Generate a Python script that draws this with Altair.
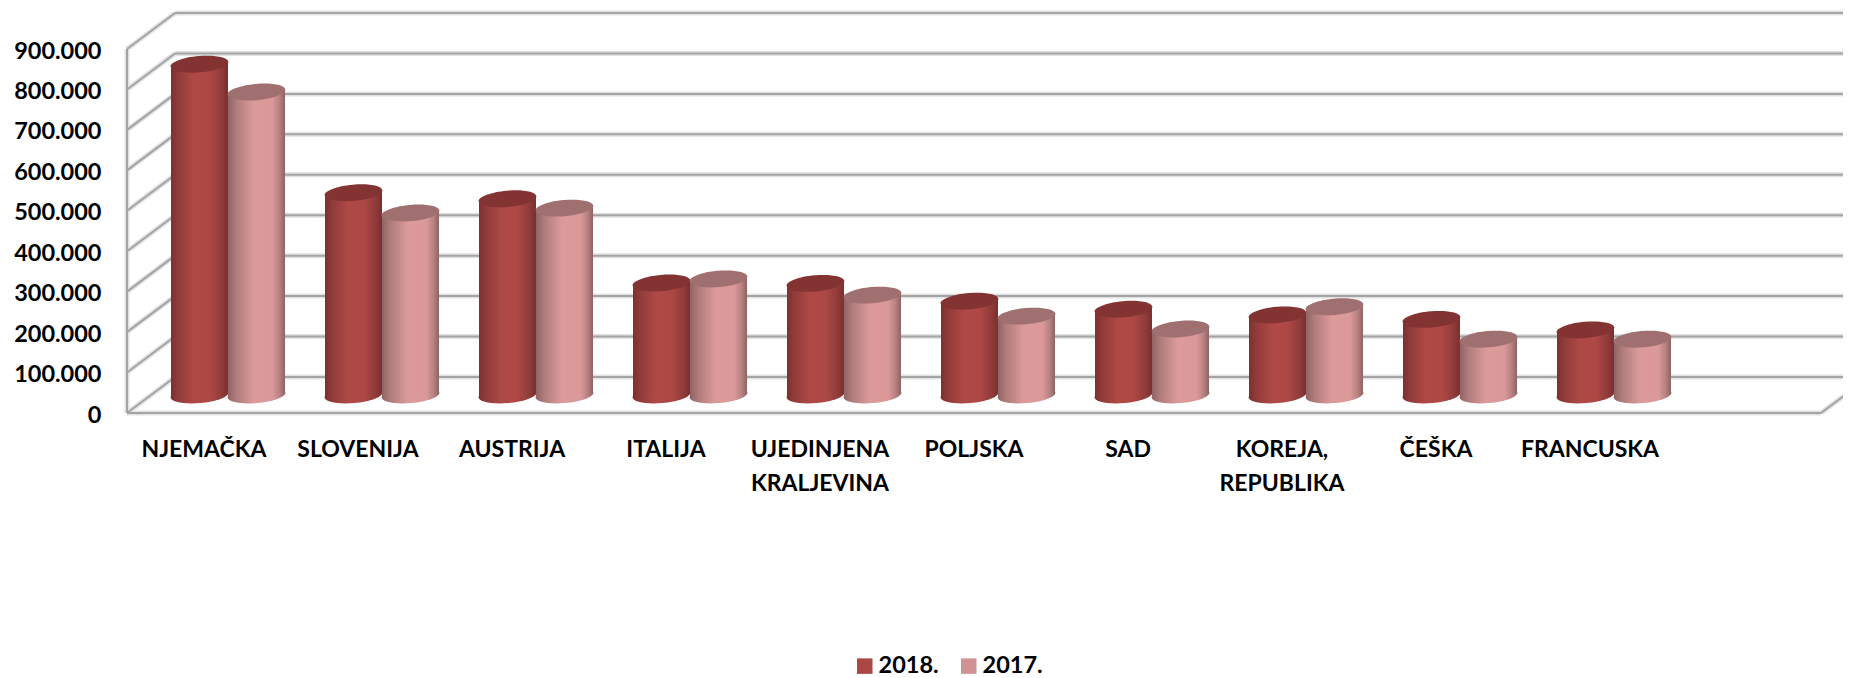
import math
import altair as alt
import pandas as pd

categories = ["NJEMAČKA", "SLOVENIJA", "AUSTRIJA", "ITALIJA", "UJEDINJENA\nKRALJEVINA",
              "POLJSKA", "SAD", "KOREJA,\nREPUBLIKA", "ČEŠKA", "FRANCUSKA"]
values_2018 = [818000, 500000, 485000, 277000, 276000, 232000, 212000, 198000, 187000, 161000]
values_2017 = [749000, 450000, 462000, 287000, 247000, 195000, 163000, 218000, 138000, 138000]
levels = [0, 100000, 200000, 300000, 400000, 500000, 600000, 700000, 800000, 900000]
series_names = ["2018.", "2017."]
legend_colors = ["#AB4744", "#D09292"]

# Plot geometry: oblique projection of the 3D box, in data units
W, H = 1716, 404
BAND = 154.0
PX_PER_UNIT_Y = 364.0 / 900000
X_MAX = W / BAND
Y_MAX = H / PX_PER_UNIT_Y
DEPTH_X = 48 / BAND
DEPTH_Y = 36 / PX_PER_UNIT_Y
N_BANDS = 11
HALF_W = 28.5 / BAND
TILT = 2.5 / PX_PER_UNIT_Y
FONT = "Lato"


def ellipse_path(ry=0.28, rot_deg=-5):
    k = 0.5523
    pts = [(-1, 0), (-1, -k * ry), (-k, -ry), (0, -ry), (k, -ry), (1, -k * ry), (1, 0),
           (1, k * ry), (k, ry), (0, ry), (-k, ry), (-1, k * ry), (-1, 0)]
    c, s = math.cos(math.radians(rot_deg)), math.sin(math.radians(rot_deg))
    q = [(x * c - y * s, x * s + y * c) for x, y in pts]
    f = lambda p: f"{p[0]:.4f},{p[1]:.4f}"
    d = "M" + f(q[0])
    for i in range(1, 13, 3):
        d += " C" + f(q[i]) + " " + f(q[i + 1]) + " " + f(q[i + 2])
    return d + " Z"


ELLIPSE = ellipse_path()
ELLIPSE_SIZE = 58 ** 2


def grad(stops):
    return alt.Gradient(gradient="linear", x1=0, x2=1, y1=0, y2=0,
                        stops=[alt.GradientStop(offset=o, color=c) for o, c in stops])


GRAD_2018 = grad([(0, "#7d302f"), (0.12, "#8f3b39"), (0.4, "#ae4946"), (0.68, "#ad4845"),
                  (0.88, "#903c3a"), (1, "#7a2f2e")])
GRAD_2017 = grad([(0, "#8f6464"), (0.15, "#b07c7c"), (0.45, "#dc9a9a"), (0.78, "#da9898"),
                  (0.9, "#b98282"), (1, "#8e6363")])
TOP_2018 = "#843333"
TOP_2017 = "#a07070"

x_scale = alt.Scale(domain=[0, X_MAX], nice=False, zero=False)
y_scale = alt.Scale(domain=[0, Y_MAX], nice=False, zero=False)
y_axis = alt.Axis(
    values=levels, title=None, domain=False, ticks=False, grid=False,
    labelFont=FONT, labelFontWeight="bold", labelFontSize=23.5, labelColor="#000000",
    labelPadding=26, labelOverlap=False, labelBound=False, labelFlush=False, labelOffset=2,
    labelExpr="replace(format(datum.value, ','), ',', '.')")


def X(f):
    return alt.X(f, scale=x_scale, axis=None)


def Y(f):
    return alt.Y(f, scale=y_scale, axis=y_axis)


# Box lines
rows = []


def seg(name, pts):
    for o, (xu, yu) in enumerate(pts):
        rows.append({"seg": name, "o": o, "x": xu, "y": yu})


seg("front-floor", [(0, 0), (N_BANDS, 0)])
seg("left-edge", [(0, 0), (0, levels[-1])])
seg("right-diag", [(N_BANDS, 0), (N_BANDS + DEPTH_X, DEPTH_Y)])
for lv in levels:
    seg(f"back-{lv}", [(DEPTH_X, lv + DEPTH_Y), (N_BANDS + DEPTH_X, lv + DEPTH_Y)])
    seg(f"diag-{lv}", [(0, lv), (DEPTH_X, lv + DEPTH_Y)])
lines = pd.DataFrame(rows)


def line_layer(width, color):
    return alt.Chart(lines).mark_line(strokeWidth=width, color=color, clip=False).encode(
        x=X("x:Q"), y=Y("y:Q"), detail="seg:N", order="o:Q")


def cylinder(values, side, fill, top):
    sign = -1 if side == "l" else 1
    body, cen = [], []
    for i, v in enumerate(values):
        xc = i + 0.5 + DEPTH_X / 2 + sign * HALF_W
        base = DEPTH_Y / 2
        cen.append({"cat": i, "x": xc, "base": base, "top": v + base})
        for e in (-1, 1):
            tilt = -e * TILT
            body.append({"cat": i, "x": xc + e * HALF_W, "y": v + base - tilt, "y2": base - tilt})
    body = pd.DataFrame(body)
    cen = pd.DataFrame(cen)
    b_ell = alt.Chart(cen).mark_point(shape=ELLIPSE, size=ELLIPSE_SIZE, filled=True, fill=fill,
                                      opacity=1, strokeWidth=0).encode(x=X("x:Q"), y=Y("base:Q"))
    area = alt.Chart(body).mark_area(fill=fill, orient="vertical", opacity=1).encode(
        x=X("x:Q"), y=Y("y:Q"), y2="y2:Q", detail="cat:N")
    t_ell = alt.Chart(cen).mark_point(shape=ELLIPSE, size=ELLIPSE_SIZE, filled=True, fill=top,
                                      opacity=1, strokeWidth=0).encode(x=X("x:Q"), y=Y("top:Q"))
    return [b_ell, area, t_ell]


labels = pd.DataFrame({"x": [i + 0.5 for i in range(len(categories))], "t": categories})
label_layer = alt.Chart(labels).mark_text(
    font=FONT, fontWeight="bold", fontSize=23, color="#000000", align="center", baseline="top",
    lineBreak="\n", lineHeight=34).encode(x=X("x:Q"), y=alt.value(H + 26), text="t:N")

legend_df = pd.DataFrame({"s": series_names, "x": [1, 1], "y": [0, 0]})
legend_layer = alt.Chart(legend_df).mark_point(shape="square", filled=True, opacity=0).encode(
    x=X("x:Q"), y=Y("y:Q"),
    color=alt.Color("s:N", scale=alt.Scale(domain=series_names, range=legend_colors), legend=alt.Legend(
        title=None, orient="none", legendX=726, legendY=645, direction="horizontal",
        symbolType="square", symbolSize=240, symbolOpacity=1, symbolStrokeWidth=0, padding=0,
        labelFont=FONT, labelFontWeight="bold", labelFontSize=23.5, labelColor="#000000",
        labelOffset=2, columnPadding=18, labelLimit=300)))

layers = [line_layer(5, "#e2e2e2"), line_layer(2, "#a4a4a4")]
layers += cylinder(values_2018, "l", GRAD_2018, TOP_2018)
layers += cylinder(values_2017, "r", GRAD_2017, TOP_2017)
layers += [label_layer, legend_layer]

chart = alt.layer(*layers).properties(
    width=W, height=H, background="#ffffff",
    padding={"left": 119, "top": 1, "right": 0, "bottom": 265},
    autosize=alt.AutoSizeParams(type="none"),
).configure_view(stroke=None)

chart.save("out.html", embed_options={"renderer": "svg", "actions": False})
